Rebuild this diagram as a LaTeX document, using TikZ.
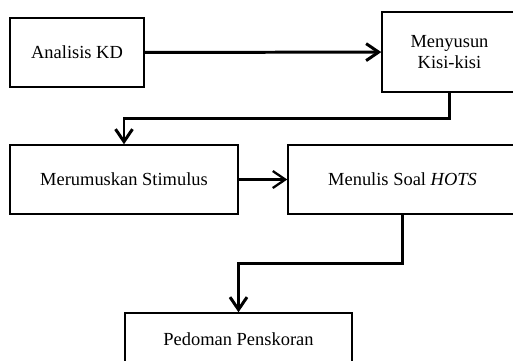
\documentclass[tikz,border=0pt]{standalone}
\usepackage{fontspec}
\setmainfont{Liberation Serif}
\usetikzlibrary{arrows.meta}

\begin{document}
\begin{tikzpicture}[x=0.02cm,y=-0.02cm,
	box/.style={draw,line width=.85pt,align=center,inner sep=0pt,font=\fontsize{10.5}{11.5}\selectfont},
	bigarrow/.style={line width=1.7pt,-{Straight Barb[length=2.5mm,width=3.4mm]}},
	smallarrow/.style={line width=1.3pt,-{Straight Barb[length=2.5mm,width=3.4mm]}}]
	\useasboundingbox (0,0) rectangle (513,360);
	
	\node[box,minimum width=2.68cm,minimum height=1.38cm] (kd) at (77,52.5) {Analisis KD};
	\node[box,minimum width=2.70cm,minimum height=1.60cm] (kisi) at (449.5,52) {Menyusun\\Kisi-kisi};
	\node[box,minimum width=4.56cm,minimum height=1.38cm] (stim) at (124,179.5) {Merumuskan Stimulus};
	\node[box,minimum width=4.58cm,minimum height=1.38cm] (soal) at (402.5,179.5) {Menulis Soal \textit{HOTS}};
	\node[box,minimum width=4.54cm,minimum height=1.04cm] (skor) at (238.5,339) {Pedoman Penskoran};
	
	\draw[bigarrow] (kd) -- (kisi);
	\draw[bigarrow] (kisi.south) -- ++(0,26) -| (stim.north);
	
	\draw[smallarrow] (stim) -- (soal);
	\draw[bigarrow] (soal.south) -- ++(0,49) -| (skor.north);
\end{tikzpicture}
\end{document}
